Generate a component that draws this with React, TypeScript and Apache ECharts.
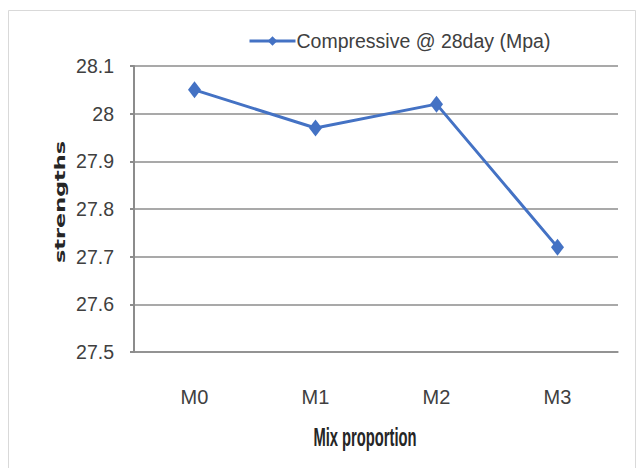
import React, { useEffect, useRef } from "react";
import * as echarts from "echarts";

const categories = ["M0", "M1", "M2", "M3"];
const compressive28 = [28.05, 27.97, 28.02, 27.72];
const seriesName = "Compressive @ 28day (Mpa)";
const yMin = 27.5;
const yMax = 28.1;
const yStep = 0.1;
const xTitle = "Mix proportion";
const yTitle = "strengths";

const FONT = "'Liberation Sans', Arial, sans-serif";
const BLUE = "#4472C4";
const TEXT = "#404040";

export default function App() {
  const ref = useRef<HTMLDivElement>(null);
  useEffect(() => {
    if (!ref.current) return;
    const chart = echarts.init(ref.current, undefined, { renderer: "svg" });
    chart.setOption({
      animation: false,
      backgroundColor: "#ffffff",
      grid: { left: 134, right: 25, top: 66, bottom: 116, containLabel: false },
      legend: {
        left: 243,
        top: 26,
        itemWidth: 46,
        itemHeight: 12,
        itemGap: 4,
        lineStyle: { width: 3 },
        textStyle: { fontFamily: FONT, fontSize: 19.5, color: TEXT, padding: [0, 0, 0, -4] },
        data: [seriesName],
      },
      xAxis: {
        type: "category",
        data: categories,
        boundaryGap: true,
        axisLine: { show: true, lineStyle: { color: "#8c8c8c", width: 1.5 } },
        axisTick: { show: false },
        axisLabel: { margin: 35, fontFamily: FONT, fontSize: 20, color: TEXT },
      },
      yAxis: {
        type: "value",
        min: yMin,
        max: yMax,
        interval: yStep,
        axisLine: { show: true, lineStyle: { color: "#8c8c8c", width: 2 } },
        axisTick: { show: true, length: 4, lineStyle: { color: "#8c8c8c", width: 2 } },
        splitLine: { show: true, lineStyle: { color: "#8c8c8c", width: 1.5 } },
        axisLabel: {
          margin: 20,
          fontFamily: FONT,
          fontSize: 19.5,
          color: TEXT,
          formatter: (v: number) => String(Math.round(v * 10) / 10),
        },
      },
      series: [
        {
          name: seriesName,
          type: "line",
          data: compressive28,
          symbol: "diamond",
          symbolSize: [13, 17],
          itemStyle: { color: BLUE },
          lineStyle: { color: BLUE, width: 3 },
        },
      ],
      graphic: [
        {
          type: "rect",
          shape: { x: 8.5, y: 10.5, width: 627, height: 470 },
          style: { fill: "none", stroke: "#d9d9d9", lineWidth: 1 },
          silent: true,
        },
        {
          type: "text",
          x: 60,
          y: 202,
          rotation: Math.PI / 2,
          scaleX: 1.6,
          style: {
            text: yTitle,
            font: "bold 14px 'DejaVu Sans', sans-serif",
            fill: "#262626",
            align: "center",
            verticalAlign: "middle",
          },
        },
        {
          type: "text",
          x: 365,
          y: 437,
          scaleX: 0.82,
          scaleY: 1.45,
          style: {
            text: xTitle,
            font: "bold 18px 'Liberation Sans', sans-serif",
            fill: "#262626",
            align: "center",
            verticalAlign: "middle",
          },
        },
      ],
    });
    return () => chart.dispose();
  }, []);
  return (
    <div
      ref={ref}
      style={{ position: "absolute", left: 0, top: 0, width: 643, height: 468 }}
    />
  );
}
